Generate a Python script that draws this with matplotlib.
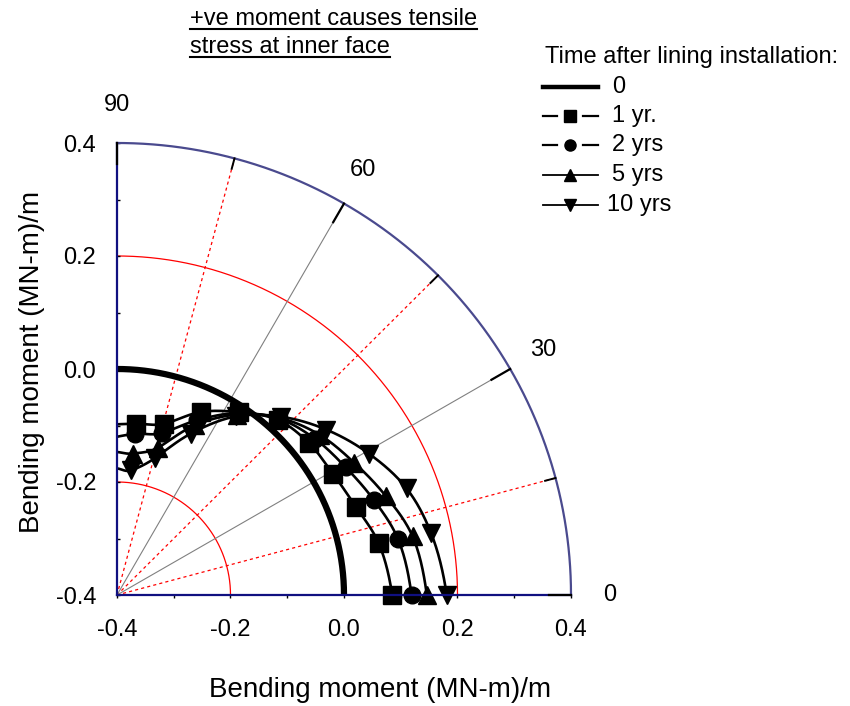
import numpy as np
import matplotlib
matplotlib.use("Agg")
import matplotlib.pyplot as plt
from matplotlib.lines import Line2D

plt.rcParams['font.family'] = ['Liberation Sans', 'DejaVu Sans']

# Angular position around the lining (degrees) and bending moment (MN-m)/m
angles_deg = [0, 11.3, 20.3, 29.3, 38.4, 47.5, 56.5, 65.5, 74.6, 83.6, 90]
moment_0yr = [0, 0, 0, 0, 0, 0, 0, 0, 0, 0, 0]
moment_1yr = [0.085, 0.070, 0.049, 0.037, 0.032, 0.020, -0.012, -0.044, -0.086, -0.095, -0.098]
moment_2yr = [0.119, 0.105, 0.083, 0.062, 0.045, 0.023, -0.014, -0.060, -0.103, -0.113, -0.120]
moment_5yr = [0.146, 0.131, 0.105, 0.079, 0.056, 0.025, -0.017, -0.070, -0.130, -0.148, -0.147]
moment_10yr = [0.181, 0.164, 0.144, 0.110, 0.071, 0.028, -0.021, -0.086, -0.149, -0.178, -0.176]

series_labels = ['0', '1 yr.', '2 yrs', '5 yrs', '10 yrs']
series_markers = [None, 's', 'o', '^', 'v']
angle_labels = ['0', '30', '60', '90']
x_tick_labels = ['-0.4', '-0.2', '0.0', '0.2', '0.4']
y_tick_labels = ['-0.4', '-0.2', '0.0', '0.2', '0.4']

# Polar frame: the radial coordinate is moment + OFFSET, centred at (-0.4, -0.4)
OFFSET = 0.4
CX, CY = -0.4, -0.4


def to_xy(theta_deg, moment):
    t = np.radians(np.asarray(theta_deg, float))
    r = np.asarray(moment, float) + OFFSET
    return CX + r * np.cos(t), CY + r * np.sin(t)


def smooth(theta, vals, n=24):
    """Catmull-Rom curve through (theta, value) pairs."""
    p = np.column_stack([theta, vals]).astype(float)
    p = np.vstack([2 * p[0] - p[1], p, 2 * p[-1] - p[-2]])
    out = []
    for i in range(1, len(p) - 2):
        p0, p1, p2, p3 = p[i - 1], p[i], p[i + 1], p[i + 2]
        s = np.linspace(0, 1, n, endpoint=False)[:, None]
        seg = 0.5 * ((2 * p1) + (-p0 + p2) * s + (2 * p0 - 5 * p1 + 4 * p2 - p3) * s ** 2
                     + (-p0 + 3 * p1 - 3 * p2 + p3) * s ** 3)
        out.append(seg)
    out.append(p[-2][None, :])
    out = np.vstack(out)
    return out[:, 0], out[:, 1]


W, H = 850, 706
FS = 17
fig = plt.figure(figsize=(W / 100, H / 100), dpi=100)
ax = fig.add_axes([117 / W, 111 / H, 454 / W, 452 / H])
ax.set_xlim(-0.4, 0.4)
ax.set_ylim(-0.4, 0.4)

axis_col = '#101080'
for side in ('top', 'right'):
    ax.spines[side].set_visible(False)
for side in ('left', 'bottom'):
    ax.spines[side].set_color(axis_col)
    ax.spines[side].set_linewidth(1.6)
    ax.spines[side].set_zorder(6)

ax.set_xticks([-0.4, -0.2, 0.0, 0.2, 0.4])
ax.set_xticklabels(x_tick_labels)
ax.set_yticks([-0.4, -0.2, 0.0, 0.2, 0.4])
ax.set_yticklabels(y_tick_labels)
ax.set_xticks(np.arange(-0.4, 0.41, 0.1), minor=True)
ax.set_yticks(np.arange(-0.4, 0.41, 0.1), minor=True)
ax.tick_params(axis='x', which='both', direction='out', length=2, width=1, pad=15,
               labelsize=FS, color='black')
ax.tick_params(axis='y', which='both', direction='in', length=2, width=1, pad=15,
               labelsize=FS, color='black')

# Grid circles and radial lines
phi = np.linspace(0, 90, 300)
for r_mom in (-0.2, 0.2):
    gx, gy = to_xy(phi, np.full_like(phi, r_mom))
    ax.plot(gx, gy, color='red', lw=0.9, zorder=1)
ox, oy = to_xy(phi, np.full_like(phi, 0.4))
ax.plot(ox, oy, color='#4a4a8e', lw=1.6, zorder=2, clip_on=False)

for a in (15, 45, 75):
    lx, ly = to_xy([a, a], [-0.4, 0.4])
    ax.plot(lx, ly, color='red', lw=0.9, ls=(0, (2.5, 2.5)), zorder=1)
for a in (30, 60):
    lx, ly = to_xy([a, a], [-0.4, 0.4])
    ax.plot(lx, ly, color='#808080', lw=0.8, zorder=1)

# Tick marks on the outer arc
for a in (0, 30, 60, 90):
    lx, ly = to_xy([a, a], [0.362, 0.4])
    ax.plot(lx, ly, color='black', lw=1.6, zorder=7, clip_on=False)
for a in (15, 45, 75):
    lx, ly = to_xy([a, a], [0.381, 0.4])
    ax.plot(lx, ly, color='black', lw=1.4, zorder=7, clip_on=False)

for lab in angle_labels:
    a = float(lab)
    tx, ty = to_xy(a, 0.468)
    ax.text(tx, ty, lab, fontsize=FS, ha='center', va='center', clip_on=False)

# Data curves
all_series = [moment_0yr, moment_1yr, moment_2yr, moment_5yr, moment_10yr]
for vals, mk in zip(all_series, series_markers):
    if mk is None:
        th = np.linspace(angles_deg[0], angles_deg[-1], 300)
        mv = np.interp(th, angles_deg, vals)
        cx, cy = to_xy(th, mv)
        ax.plot(cx, cy, color='black', lw=4.5, solid_capstyle='butt', zorder=4)
        continue
    th, mv = smooth(angles_deg, vals)
    cx, cy = to_xy(th, mv)
    ax.plot(cx, cy, color='black', lw=1.9, zorder=4)
    px, py = to_xy(angles_deg[:-1], vals[:-1])
    ax.plot(px, py, ls='none', marker=mk, ms=12.5 if mk != 'o' else 12,
            color='black', zorder=5, clip_on=False)

# Axis titles
fig.text(380 / W, 1 - 690 / H, 'Bending moment (MN-m)/m', fontsize=20,
         ha='center', va='center')
fig.text(32 / W, 1 - 362 / H, 'Bending moment (MN-m)/m', fontsize=20,
         ha='center', va='center', rotation=90)

# Underlined note
note_lines = ['+ve moment causes tensile', 'stress at inner face']
for i, txt in enumerate(note_lines):
    y = 1 - (19 + 28 * i) / H
    t = fig.text(190 / W, y, txt, fontsize=FS, ha='left', va='center')
fig.canvas.draw()
renderer = fig.canvas.get_renderer()
for t in fig.texts[-2:]:
    bb = t.get_window_extent(renderer)
    fig.add_artist(Line2D([bb.x0 / W, bb.x1 / W], [(bb.y0 + 1) / H, (bb.y0 + 1) / H],
                          transform=fig.transFigure, color='black', lw=1.5))

# Legend
fig.text(545 / W, 1 - 57 / H, 'Time after lining installation:', fontsize=FS,
         ha='left', va='center')
row_y = [87, 116, 145, 175, 205]
for i, (lab, mk) in enumerate(zip(series_labels, series_markers)):
    yy = 1 - row_y[i] / H
    if mk is None:
        fig.add_artist(Line2D([543 / W, 598 / W], [yy, yy], transform=fig.transFigure,
                              color='black', lw=3.2))
    elif i in (1, 2):
        for x0, x1 in ((543, 557), (583, 598)):
            fig.add_artist(Line2D([x0 / W, x1 / W], [yy, yy], transform=fig.transFigure,
                                  color='black', lw=1.6))
    else:
        fig.add_artist(Line2D([543 / W, 598 / W], [yy, yy], transform=fig.transFigure,
                              color='black', lw=1.3))
    if mk is not None:
        fig.add_artist(Line2D([570 / W], [yy], transform=fig.transFigure, ls='none',
                              marker=mk, ms=8, color='black'))
    tx = 612 if i < 4 else 607
    fig.text(tx / W, yy, lab, fontsize=FS, ha='left', va='center')

fig.savefig('out.png', dpi=100)
